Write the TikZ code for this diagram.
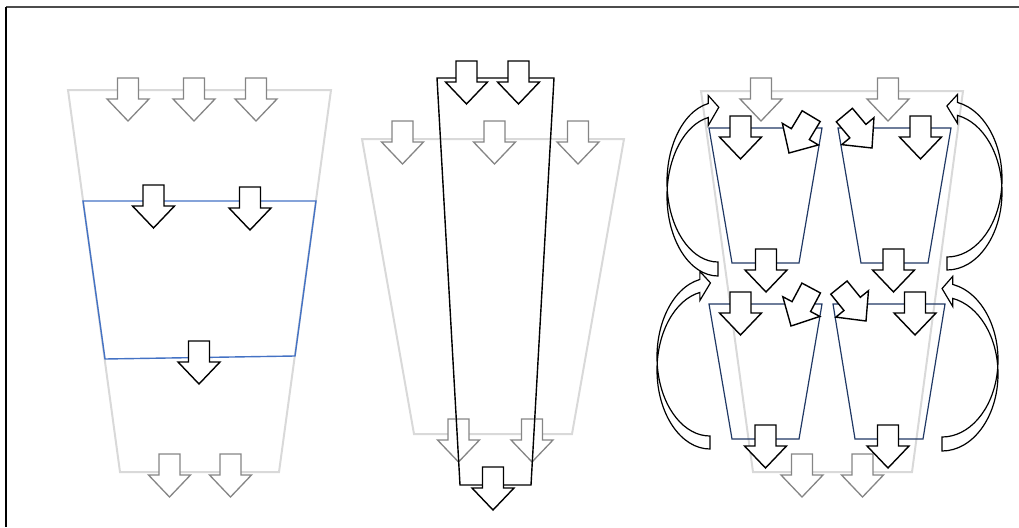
\documentclass[tikz,border=0pt]{standalone}
\usetikzlibrary{calc}

\definecolor{trapgray}{HTML}{D9D9D9}
\definecolor{arrowgray}{HTML}{858585}
\definecolor{layerblue}{HTML}{4472C4}
\definecolor{cellnavy}{HTML}{203864}

\tikzset{
  % block arrow pointing down, origin at its tip
  blockarrow/.pic={
    \path[pic actions] (-10.5,-43) -- (10.5,-43) -- (10.5,-22) -- (21,-22)
      -- (0,0) -- (-21,-22) -- (-10.5,-22) -- cycle;
  },
  grayarrow/.style={draw=arrowgray, fill=white, line width=1.3pt},
  blackarrow/.style={draw=black, fill=white, line width=1.4pt},
  outerframe/.style={draw=trapgray, line width=2pt},
  bluelayer/.style={draw=layerblue, line width=1.4pt},
  navycell/.style={draw=cellnavy, line width=1.2pt},
  blackframe/.style={draw=black, line width=1.4pt},
  bendstyle/.style={draw=black, line width=1.2pt, line join=miter},
}

% curved block arrow: #1,#2 inner end of the tail, #3 tail thickness,
% #4,#5 ellipse radii, #6 = 1 (head to the right) or -1 (mirrored)
\newcommand\bendarrow[6]{%
  \pgfmathsetmacro\cvX{#4*cos(259)}%
  \pgfmathsetmacro\cvYa{-#5+#5*sin(259)}%
  \pgfmathsetmacro\cvYb{#3-#5+#5*sin(259)}%
  \pgfmathsetmacro\cvN{sqrt((#4*sin(259))^2+(#5*cos(259))^2)}%
  \pgfmathsetmacro\cvTx{\cvX+11*(-#4*sin(259))/\cvN}%
  \pgfmathsetmacro\cvTy{(\cvYa+\cvYb)/2+11*(#5*cos(259))/\cvN}%
  \begin{scope}[shift={(#1,#2)},xscale=#6]
    \path[bendstyle] (0,#3) arc[start angle=90,end angle=259,x radius=#4,y radius=#5]
      -- ({\cvX},{\cvYb+8}) -- ({\cvTx},{\cvTy}) -- ({\cvX},{\cvYa-8}) -- ({\cvX},{\cvYa})
      arc[start angle=259,end angle=90,x radius=#4,y radius=#5] -- cycle;
  \end{scope}}

\begin{document}
\begin{tikzpicture}[x=1pt,y=-1pt]
\useasboundingbox (0,0) rectangle (1019,527);

% frame
\draw[line width=1.5pt, draw=black!70] (6,7) -- (1019,7);
\draw[line width=1.5pt, draw=black] (6,7) -- (6,527);

% ---------- left: whole layer with one slice ----------
\path[outerframe] (68,90) -- (331,90) -- (279,472) -- (120,472) -- cycle;
\foreach \x in {128,194,256} \pic[grayarrow] at (\x,121) {blockarrow};
\foreach \x in {169.5,230.5} \pic[grayarrow] at (\x,497) {blockarrow};
\path[bluelayer] (83,201) -- (316,201) -- (295,356) -- (105,359) -- cycle;
\pic[blackarrow] at (153.5,228) {blockarrow};
\pic[blackarrow] at (250,230) {blockarrow};
\pic[blackarrow] at (199,384) {blockarrow};

% ---------- middle: narrow column ----------
\path[outerframe] (362,139) -- (624,139) -- (572,434) -- (414,434) -- cycle;
\foreach \x in {402.5,494.5,578} \pic[grayarrow] at (\x,164) {blockarrow};
\foreach \x in {458.5,532} \pic[grayarrow] at (\x,462) {blockarrow};
\path[blackframe] (437,78) -- (554,78) -- (531,485) -- (460,485) -- cycle;
\pic[blackarrow] at (466.5,104) {blockarrow};
\pic[blackarrow] at (518.5,104) {blockarrow};
\pic[blackarrow] at (493,510) {blockarrow};

% ---------- right: four cells ----------
\path[outerframe] (701,91) -- (963,91) -- (912,472) -- (753,472) -- cycle;
\foreach \x in {761,888} \pic[grayarrow] at (\x,121) {blockarrow};
\foreach \x in {802,862.5} \pic[grayarrow] at (\x,497) {blockarrow};

\path[navycell] (709,128) -- (822,128) -- (799,263) -- (732,263) -- cycle;
\path[navycell] (838,128) -- (951,128) -- (928,263) -- (861,263) -- cycle;
\path[navycell] (709,304) -- (822,304) -- (799,439) -- (732,439) -- cycle;
\path[navycell] (833,304) -- (945,304) -- (923,439) -- (855,439) -- cycle;

\pic[blackarrow] at (740.5,159) {blockarrow};
\pic[blackarrow, rotate=-31] at (789,153) {blockarrow};
\pic[blackarrow, rotate=40] at (872,148) {blockarrow};
\pic[blackarrow] at (920.5,159) {blockarrow};
\pic[blackarrow] at (766,292) {blockarrow};
\pic[blackarrow] at (893.5,292) {blockarrow};

\pic[blackarrow] at (740.5,335) {blockarrow};
\pic[blackarrow, rotate=-28] at (791,326) {blockarrow};
\pic[blackarrow, rotate=39] at (866,321) {blockarrow};
\pic[blackarrow] at (915,335) {blockarrow};
\pic[blackarrow] at (765.5,468) {blockarrow};
\pic[blackarrow] at (888,468) {blockarrow};

\bendarrow{718}{262}{14}{51}{80}{1}
\bendarrow{947}{257}{13}{55}{78}{-1}
\bendarrow{710}{436}{13}{53}{79}{1}
\bendarrow{942}{437}{14}{56}{77}{-1}
\end{tikzpicture}
\end{document}
